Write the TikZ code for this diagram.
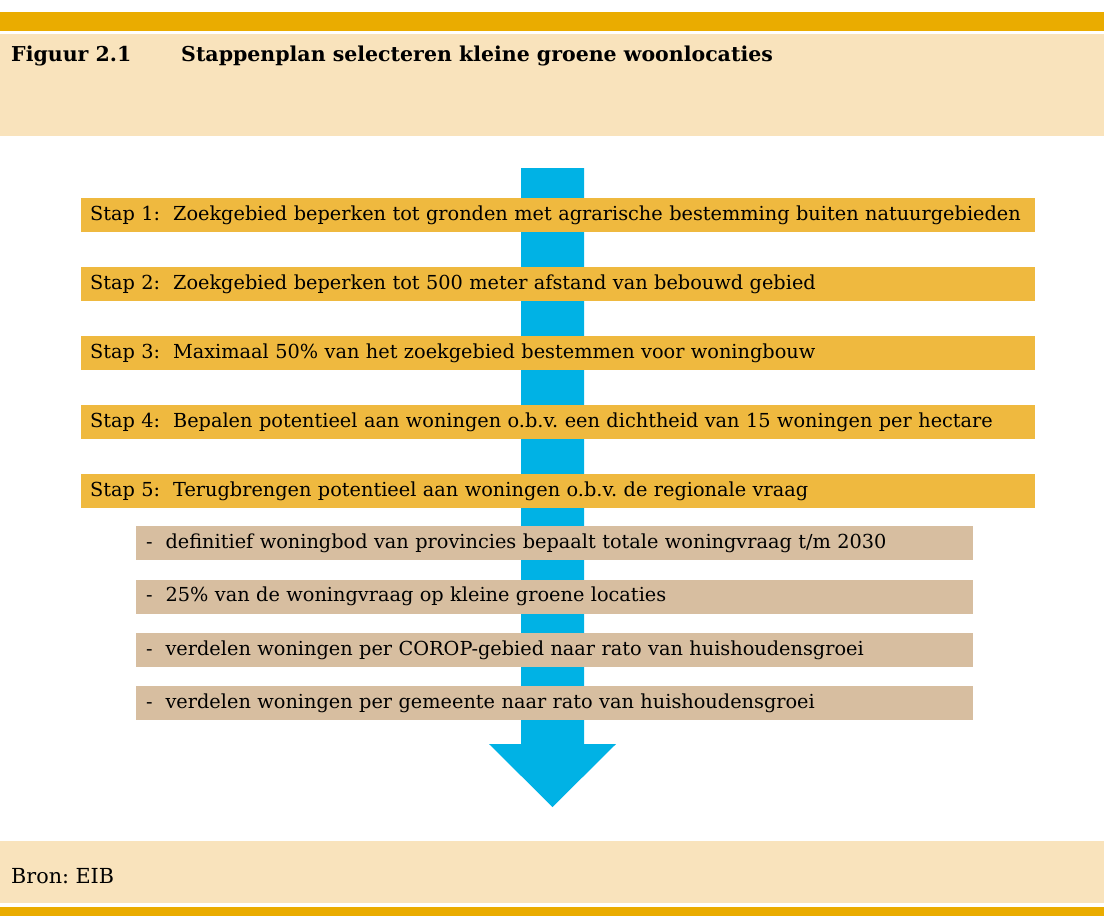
\documentclass[tikz,border=0pt]{standalone}
\usepackage{fontspec}
\setmainfont{DejaVu Serif}
\usepackage{tikz}
\usetikzlibrary{positioning}
\frenchspacing

\definecolor{bandgold}{RGB}{234,172,0}
\definecolor{bandlight}{RGB}{249,227,188}
\definecolor{stepgold}{RGB}{239,185,63}
\definecolor{subtan}{RGB}{215,190,160}
\definecolor{flowblue}{RGB}{0,178,229}

\tikzset{
    stepbar/.style={fill=stepgold, anchor=north west, minimum height=34pt,
        text width=936pt, inner xsep=9pt, inner ysep=0pt, align=left,
        font=\fontsize{19.3}{22}\selectfont},
    subbar/.style={fill=subtan, anchor=north west, minimum height=34pt,
        text width=817pt, inner xsep=10pt, inner ysep=0pt, align=left,
        font=\fontsize{19.3}{22}\selectfont},
    plaintext/.style={anchor=base west, inner sep=0pt, font=\fontsize{20.7}{24}\selectfont}}

\begin{document}
\begin{tikzpicture}[x=1pt, y=-1pt]
    \useasboundingbox (0,0) rectangle (1104,916);

    % header and footer bands
    \fill[bandgold] (0,12) rectangle (1104,31);
    \fill[bandlight] (0,34) rectangle (1104,136);
    \fill[bandlight] (0,841) rectangle (1104,903);
    \fill[bandgold] (0,907) rectangle (1104,916);

    \node[plaintext, font=\bfseries\fontsize{20.5}{24}\selectfont] (fignum) at (11,61) {Figuur 2.1};
    \node[plaintext, font=\bfseries\fontsize{20.5}{24}\selectfont] (figtitle) at (181,61) {Stappenplan selecteren kleine groene woonlocaties};

    % blue arrow behind the steps
    \fill[flowblue] (521,168) -- (584,168) -- (584,744) -- (616,744) -- (552.5,807)
        -- (489,744) -- (521,744) -- cycle;

    \node[stepbar] (s1) at (81,198) {Stap 1:\ \ Zoekgebied beperken tot gronden met agrarische bestemming buiten natuurgebieden};
    \node[stepbar] (s2) at (81,267) {Stap 2:\ \ Zoekgebied beperken tot 500 meter afstand van bebouwd gebied};
    \node[stepbar] (s3) at (81,336) {Stap 3:\ \ Maximaal 50\% van het zoekgebied bestemmen voor woningbouw};
    \node[stepbar] (s4) at (81,405) {Stap 4:\ \ Bepalen potentieel aan woningen o.b.v. een dichtheid van 15 woningen per hectare};
    \node[stepbar] (s5) at (81,474) {Stap 5:\ \ Terugbrengen potentieel aan woningen o.b.v. de regionale vraag};

    \node[subbar] (r1) at (136,526) {-\ \ definitief woningbod van provincies bepaalt totale woningvraag t/m 2030};
    \node[subbar] (r2) at (136,579.5) {-\ \ 25\% van de woningvraag op kleine groene locaties};
    \node[subbar] (r3) at (136,633) {-\ \ verdelen woningen per COROP-gebied naar rato van huishoudensgroei};
    \node[subbar] (r4) at (136,686) {-\ \ verdelen woningen per gemeente naar rato van huishoudensgroei};

    \node[plaintext] (bron) at (11,883) {Bron: EIB};

\end{tikzpicture}
\end{document}
